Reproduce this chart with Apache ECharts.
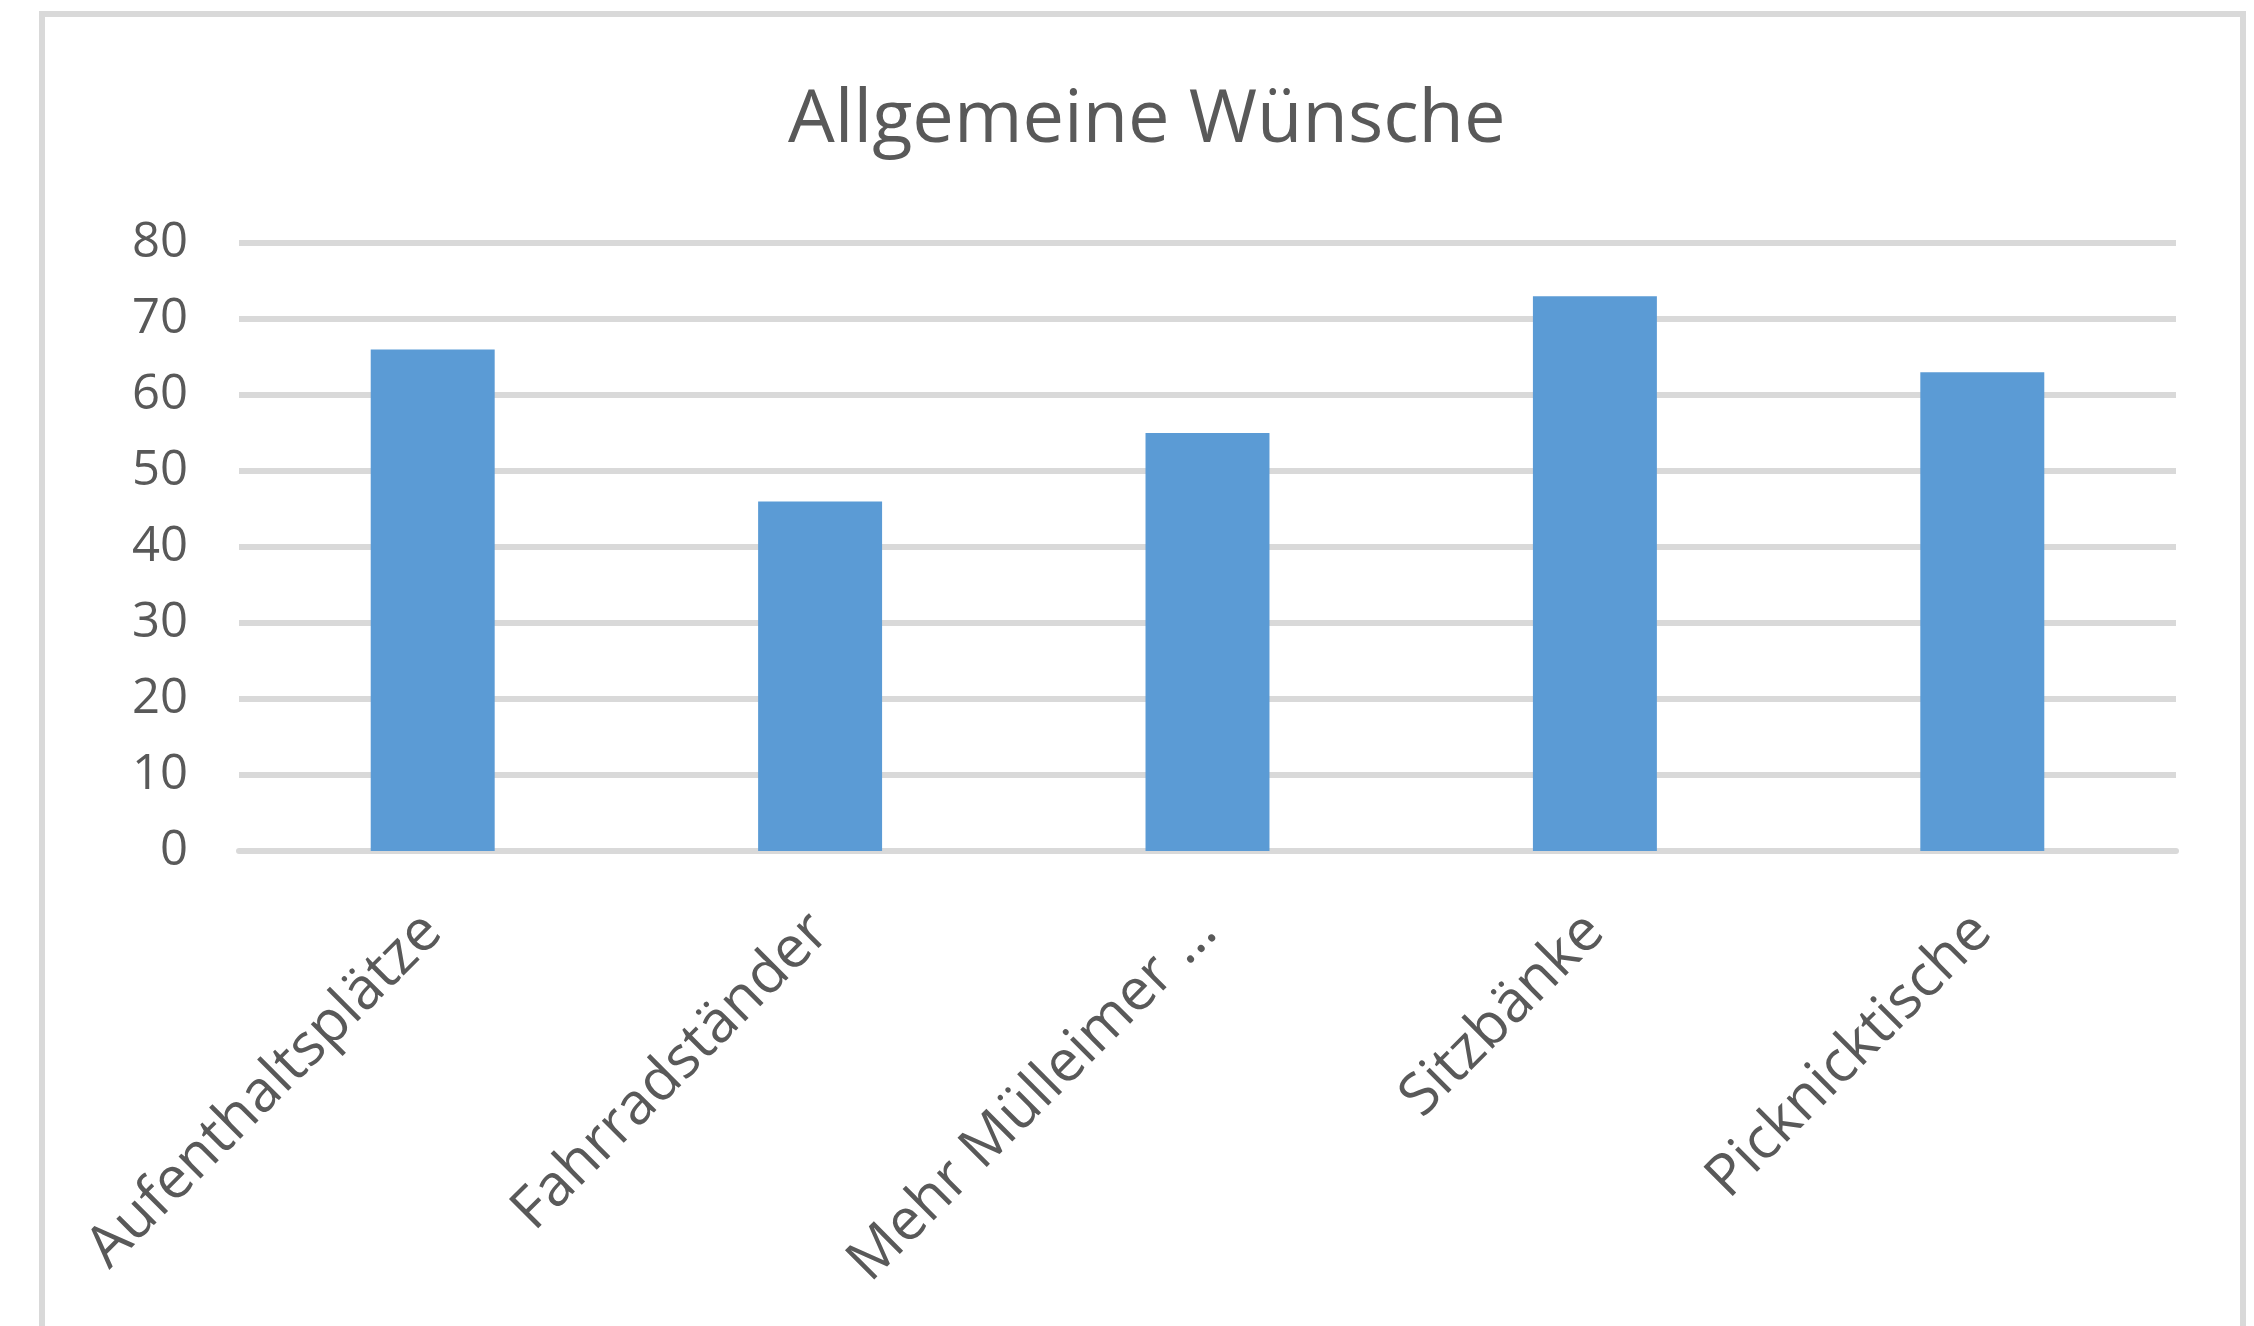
<!DOCTYPE html>
<html>
<head>
<meta charset="utf-8">
<title>Allgemeine Wünsche</title>
<script src="https://cdn.jsdelivr.net/npm/echarts@6/dist/echarts.min.js"></script>
<style>
  html, body { margin: 0; padding: 0; background: #fff; }
  #chart { width: 2254px; height: 1326px; }
</style>
</head>
<body>
<div id="chart"></div>
<script>
const categories = ['Aufenthaltsplätze', 'Fahrradständer', 'Mehr Mülleimer …', 'Sitzbänke', 'Picknicktische']
const values = [66, 46, 55, 73, 63]
const yTicks = [0, 10, 20, 30, 40, 50, 60, 70, 80]

const textColor = '#595959'
const gridColor = '#d9d9d9'
const barColor = '#5b9bd5'
const font = '"Open Sans", "Noto Sans", sans-serif'

const chart = echarts.init(document.getElementById('chart'))
chart.setOption({
  animation: false,
  backgroundColor: '#fff',
  title: {
    text: 'Allgemeine Wünsche',
    left: 783,
    top: 79,
    textStyle: {
      color: textColor,
      fontFamily: font,
      fontSize: 74,
      fontWeight: 'normal'
    }
  },
  // outer chart frame (open at the bottom, like the cropped screenshot)
  graphic: [
    {
      type: 'rect',
      shape: { x: 42, y: 14, width: 2201, height: 1400 },
      style: { fill: 'none', stroke: gridColor, lineWidth: 6 },
      silent: true
    }
  ],
  grid: {
    left: 239,
    right: 78,
    top: 243,
    bottom: 475
  },
  xAxis: {
    type: 'category',
    data: categories,
    axisTick: { show: false },
    axisLine: { lineStyle: { color: gridColor, width: 6 } },
    axisLabel: {
      rotate: 45,
      interval: 0,
      margin: 72,
      color: textColor,
      fontFamily: font,
      fontSize: 58
    }
  },
  yAxis: {
    type: 'value',
    min: yTicks[0],
    max: yTicks[yTicks.length - 1],
    interval: 10,
    axisLine: { show: false },
    axisTick: { show: false },
    axisLabel: {
      margin: 51,
      color: textColor,
      fontFamily: font,
      fontSize: 49
    },
    splitLine: { lineStyle: { color: gridColor, width: 6 } }
  },
  series: [
    {
      type: 'bar',
      data: values,
      barWidth: '32%',
      itemStyle: { color: barColor }
    }
  ]
})
</script>
</body>
</html>
